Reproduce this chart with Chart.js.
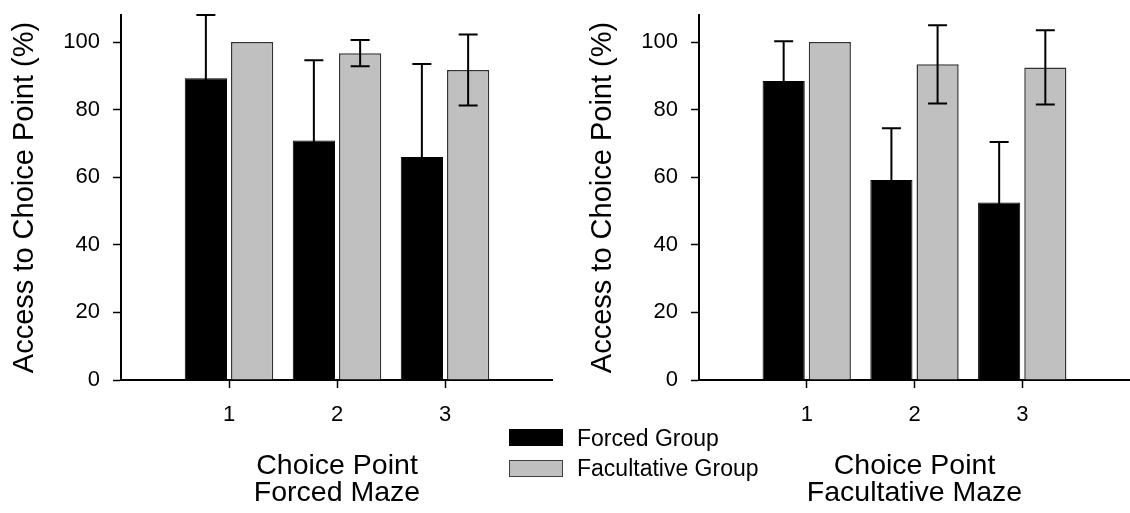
<!DOCTYPE html>
<html>
<head>
<meta charset="utf-8">
<script src="https://cdn.jsdelivr.net/npm/chart.js@4.4.1/dist/chart.umd.min.js"></script>
<style>
    body { margin: 0; background: #fff; }
    #wrap { position: relative; width: 1130px; height: 513px; overflow: hidden; font-family: "Liberation Sans", Arial, sans-serif; }
    canvas { position: absolute; top: 0; }
    #forcedMaze { left: 0; }
    #facultativeMaze { left: 578px; }
    .key { position: absolute; left: 509px; width: 54px; height: 17px; box-sizing: border-box; }
    .keyText { position: absolute; left: 577px; font-size: 23px; line-height: 26px; color: #000; white-space: nowrap; }
</style>
</head>
<body>
<div id="wrap">
    <canvas id="forcedMaze" width="553" height="513"></canvas>
    <canvas id="facultativeMaze" width="552" height="513"></canvas>
    <div class="key" style="top:429px; background:#000;"></div>
    <div class="keyText" style="top:425px;">Forced Group</div>
    <div class="key" style="top:459.5px; background:#c0c0c0; border:1px solid #404040;"></div>
    <div class="keyText" style="top:455.3px;">Facultative Group</div>
</div>
<script>
const choicePoints = ['1', '2', '3'];
const seriesNames = ['Forced Group', 'Facultative Group'];
const yTicks = [0, 20, 40, 60, 80, 100];

// forced maze
const forcedMazeForced = [89.3, 70.9, 66.0];
const forcedMazeForcedErr = [18.7, 23.7, 27.5];
const forcedMazeFacult = [100, 96.7, 91.7];
const forcedMazeFacultErr = [0, 3.9, 10.5];

// facultative maze
const facultMazeForced = [88.5, 59.2, 52.5];
const facultMazeForcedErr = [11.7, 15.3, 17.9];
const facultMazeFacult = [100, 93.4, 92.5];
const facultMazeFacultErr = [0, 11.6, 11.0];

// empty slot at each end of the x axis
const pad = arr => [null, ...arr, null];
const labels = pad(choicePoints).map(v => v === null ? '' : v);

const errorBars = {
    id: 'errorBars',
    afterDatasetsDraw(chart) {
        const ctx = chart.ctx;
        const y = chart.scales.y;
        ctx.save();
        ctx.strokeStyle = '#000';
        ctx.lineWidth = 2;
        chart.data.datasets.forEach((ds, i) => {
            const meta = chart.getDatasetMeta(i);
            meta.data.forEach((bar, j) => {
                const v = ds.data[j];
                const e = ds.err[j];
                if (v === null || !e) return;
                const top = y.getPixelForValue(v + e);
                const bot = y.getPixelForValue(v - e);
                ctx.beginPath();
                ctx.moveTo(bar.x, top);
                ctx.lineTo(bar.x, bot);
                ctx.moveTo(bar.x - 9.5, top);
                ctx.lineTo(bar.x + 9.5, top);
                ctx.moveTo(bar.x - 9.5, bot);
                ctx.lineTo(bar.x + 9.5, bot);
                ctx.stroke();
            });
        });
        ctx.restore();
    }
};

function makeChart(id, forced, forcedErr, facult, facultErr, title) {
    return new Chart(document.getElementById(id), {
        type: 'bar',
        data: {
            labels: labels,
            datasets: [{
                label: seriesNames[0],
                data: pad(forced),
                err: pad(forcedErr),
                backgroundColor: '#000',
                borderColor: '#000',
                borderWidth: 1,
                categoryPercentage: 0.857,
                barPercentage: 0.913
            }, {
                label: seriesNames[1],
                data: pad(facult),
                err: pad(facultErr),
                backgroundColor: '#c0c0c0',
                borderColor: '#333',
                borderWidth: 1.5,
                categoryPercentage: 0.857,
                barPercentage: 0.913
            }]
        },
        options: {
            responsive: false,
            animation: false,
            devicePixelRatio: 1,
            layout: {
                padding: { top: 15, left: 0, right: 0, bottom: 0 }
            },
            plugins: {
                legend: false,
                tooltip: { enabled: false }
            },
            scales: {
                x: {
                    offset: false,
                    grid: {
                        offset: false,
                        drawOnChartArea: false,
                        tickLength: 8,
                        tickWidth: 1.5,
                        tickColor: c => (c.index === 0 || c.index === labels.length - 1) ? 'rgba(0,0,0,0)' : '#000'
                    },
                    border: { color: '#000', width: 2 },
                    ticks: {
                        autoSkip: false,
                        maxRotation: 0,
                        padding: 14,
                        color: '#000',
                        font: { family: 'Liberation Sans', size: 22 }
                    },
                    title: {
                        display: true,
                        text: title,
                        color: '#000',
                        font: { family: 'Liberation Sans', size: 28.5, lineHeight: 0.96 },
                        padding: { top: 0, bottom: 6 }
                    },
                    afterFit: s => {
                        s.height = 133;
                        s.paddingLeft = 0;
                        s.paddingRight = 0;
                    }
                },
                y: {
                    min: 0,
                    max: 108,
                    grid: {
                        drawOnChartArea: false,
                        tickLength: 8,
                        tickWidth: 1.5,
                        tickColor: '#000'
                    },
                    border: { color: '#000', width: 2 },
                    ticks: {
                        stepSize: 20,
                        includeBounds: false,
                        padding: 13,
                        color: '#000',
                        font: { family: 'Liberation Sans', size: 22 }
                    },
                    afterBuildTicks: s => { s.ticks = yTicks.map(v => ({ value: v })); },
                    title: {
                        display: true,
                        text: 'Access to Choice Point (%)',
                        color: '#000',
                        font: { family: 'Liberation Sans', size: 29, lineHeight: 1.2 },
                        padding: { top: 8, bottom: 0 }
                    },
                    afterFit: s => {
                        s.width = 121;
                        s.paddingTop = 0;
                        s.paddingBottom = 0;
                    }
                }
            }
        },
        plugins: [errorBars]
    });
}

makeChart('forcedMaze', forcedMazeForced, forcedMazeForcedErr, forcedMazeFacult, forcedMazeFacultErr,
    ['Choice Point', 'Forced Maze']);
makeChart('facultativeMaze', facultMazeForced, facultMazeForcedErr, facultMazeFacult, facultMazeFacultErr,
    ['Choice Point', 'Facultative Maze']);
</script>
</body>
</html>
